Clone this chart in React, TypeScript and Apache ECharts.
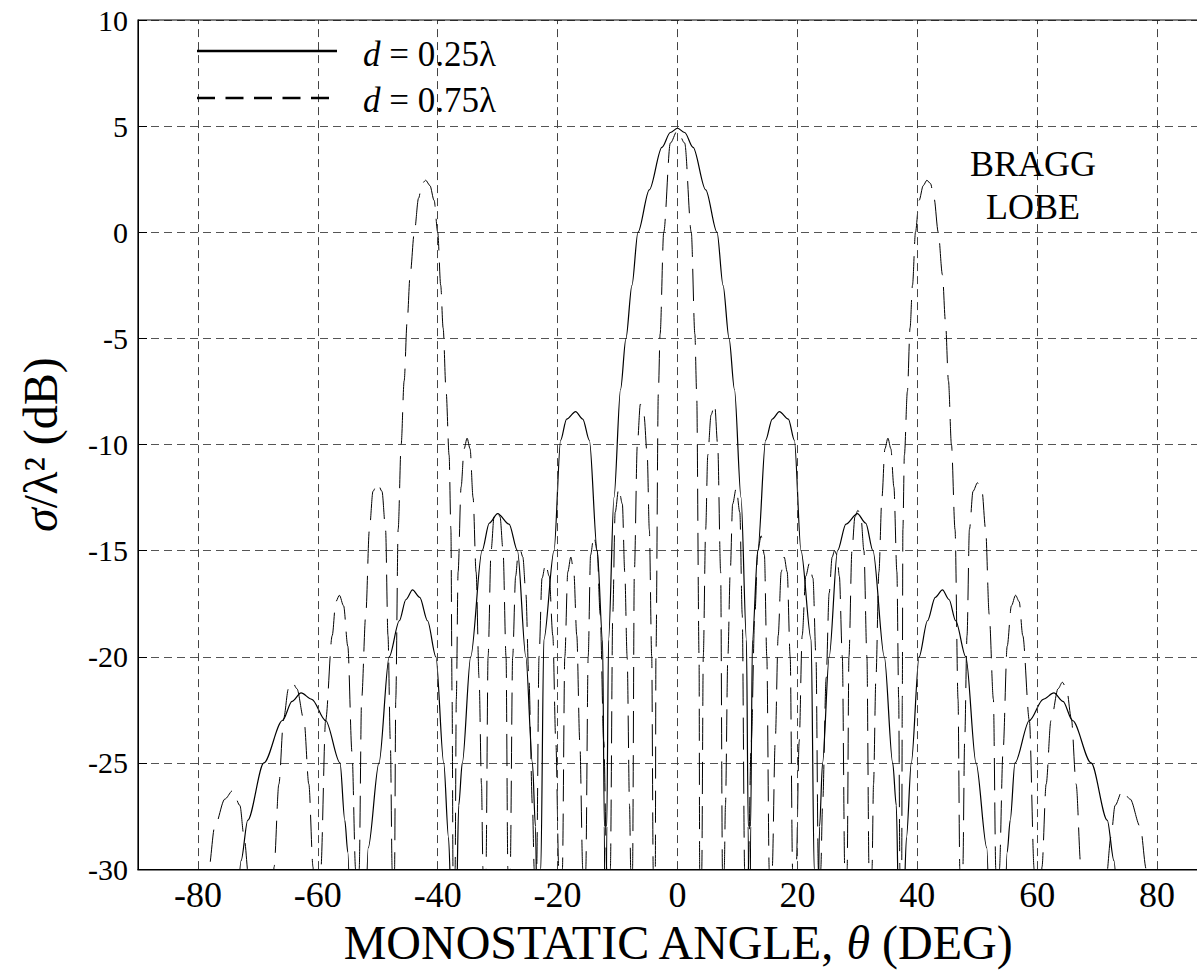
import React, { useEffect, useRef } from "react";
import * as echarts from "echarts";

const FONT = '"Liberation Serif", "Times New Roman", serif';

// x-axis labelled ticks (also the vertical grid lines)
const xTickLabels = [-80, -60, -40, -20, 0, 20, 40, 60, 80];

const legendLabels = ["d = 0.25λ", "d = 0.75λ"];

// d = 0.25λ (solid) : [angle (deg), σ/λ² (dB)]
const solidSeries: [number, number][] = [
  [-90, -45], [-76, -42], [-73.8, -33], [-72.8, -29.6], [-71.7, -27.7], [-69, -25], [-65.9, -23],
  [-64.3, -22.1], [-62.8, -21.7], [-61, -22], [-58.7, -23], [-56.3, -25], [-55.5, -27.7], [-55, -29.2],
  [-54.3, -35], [-53.3, -42], [-52.3, -35], [-51.6, -29], [-49.8, -25], [-48.1, -20], [-46.4, -18.3],
  [-45.3, -17.3], [-44.2, -16.85], [-43, -17.2], [-41.7, -18.3], [-40.3, -20], [-39, -25], [-38.2, -28.5],
  [-37.6, -33], [-37.3, -40], [-36.9, -32], [-36.5, -27], [-35.9, -25], [-34.5, -20], [-32.6, -15],
  [-31.4, -13.7], [-30, -13.25], [-28.1, -13.75], [-26.7, -15], [-25.3, -20], [-24.2, -25], [-23.7, -28],
  [-23.3, -35], [-23, -40], [-22.8, -30], [-22.3, -19.2], [-20.6, -15], [-19.5, -9.8], [-18.5, -8.8],
  [-17, -8.45], [-15.8, -8.8], [-14.7, -9.8], [-13.4, -15], [-12.5, -19.2], [-12.2, -28], [-12, -40],
  [-11.8, -28], [-11.5, -19.2], [-10.6, -12.5], [-9.5, -7.4], [-8.6, -5], [-7.6, -2.5], [-6.6, 0],
  [-4.7, 2], [-2.6, 4], [-1.2, 4.7], [0, 4.9],
  [1.2, 4.7], [2.6, 4], [4.7, 2], [6.6, 0], [7.6, -2.5], [8.6, -5], [9.5, -7.4], [10.6, -12.5],
  [11.5, -19.2], [11.8, -28], [12, -40], [12.2, -28], [12.5, -19.2], [13.4, -15], [14.7, -9.8],
  [15.8, -8.8], [17, -8.45], [18.5, -8.8], [19.5, -9.8], [20.6, -15], [22.3, -19.2], [22.8, -30],
  [23, -40], [23.3, -35], [23.7, -28], [24.2, -25], [25.3, -20], [26.7, -15], [28.1, -13.75],
  [30, -13.25], [31.4, -13.7], [32.6, -15], [34.5, -20], [35.9, -25], [36.5, -27], [36.9, -32],
  [37.3, -40], [37.6, -33], [38.2, -28.5], [39, -25], [40.3, -20], [41.7, -18.3], [43, -17.2],
  [44.2, -16.85], [45.3, -17.3], [46.4, -18.3], [48.1, -20], [49.8, -25], [51.6, -29], [52.3, -35],
  [53.3, -42], [54.3, -35], [55, -29.2], [55.5, -27.7], [56.3, -25], [58.7, -23], [61, -22],
  [62.8, -21.7], [64.3, -22.1], [65.9, -23], [69, -25], [71.7, -27.7], [72.8, -29.6], [73.8, -33],
  [76, -42], [90, -45],
];

// d = 0.75λ (dashed) : [angle (deg), σ/λ² (dB)]
const dashedSeries: [number, number][] = [
  [-90, -45], [-80, -42], [-79, -40], [-78.2, -30], [-77.2, -28], [-75.5, -26.7], [-74.2, -26.3],
  [-73, -27], [-72.3, -28.5], [-71.5, -30.5], [-70.8, -40], [-68, -40], [-67.3, -29.9], [-66.5, -26],
  [-65.7, -22.9], [-64.9, -21.5], [-64.2, -21.2], [-63.5, -21.5], [-62.3, -23], [-61.5, -26],
  [-60.8, -29.9], [-60.3, -40], [-59.5, -30], [-58.7, -23], [-57.6, -19], [-57, -17.4], [-56.4, -17.1],
  [-55.7, -17.6], [-55, -19.5], [-54.3, -24.5], [-53.7, -30], [-53.4, -40], [-53.1, -30], [-52.7, -22],
  [-52, -18], [-51.4, -14], [-50.8, -12.2], [-50.05, -11.8], [-49.3, -12.2], [-48.7, -14], [-48.3, -19],
  [-47.9, -24], [-47.6, -30], [-47.4, -40], [-47.2, -30], [-47, -22], [-46.6, -14], [-46.1, -10],
  [-45.6, -7], [-45.1, -4.2], [-44.6, -2], [-43.9, 0], [-43.2, 1.6], [-42.6, 2.3], [-42, 2.45],
  [-41.3, 2.2], [-40.6, 1.5], [-40, 0], [-39.5, -2.5], [-39.1, -4.5], [-38.6, -7.5], [-38.1, -10.5],
  [-37.8, -14], [-37.6, -22], [-37.45, -30], [-37.3, -40], [-37.1, -30], [-36.9, -22], [-36.6, -16],
  [-36.1, -12], [-35.6, -10.2], [-35.1, -9.7], [-34.6, -10.2], [-34.1, -12.5], [-33.6, -16],
  [-33.1, -21], [-32.7, -26], [-32.45, -30], [-32.2, -40], [-31.95, -30], [-31.6, -20], [-31.1, -15],
  [-30.6, -13.4], [-30.1, -13.1], [-29.6, -13.4], [-29.1, -15], [-28.6, -20], [-28.3, -30], [-28.1, -40],
  [-27.9, -30], [-27.5, -20], [-27, -16.2], [-26.6, -15.2], [-26.2, -15], [-25.8, -15.3], [-25.3, -17],
  [-24.8, -21], [-24.2, -27], [-23.9, -30], [-23.7, -40], [-23.5, -30], [-23.1, -20], [-22.6, -16.3],
  [-22, -15.6], [-21.4, -16.2], [-20.8, -19], [-20.3, -24], [-19.8, -30], [-19.5, -40], [-19.2, -30],
  [-18.8, -20], [-18.3, -16], [-17.8, -15.3], [-17.3, -16], [-16.8, -19], [-16.3, -24], [-15.8, -30],
  [-15.5, -40], [-15.3, -30], [-14.9, -20], [-14.5, -15.2], [-13.95, -14.3], [-13.4, -15], [-12.9, -18],
  [-12.3, -24], [-11.8, -30], [-11.5, -40], [-11.2, -30], [-10.8, -18], [-10.4, -13.2], [-9.8, -12.05],
  [-9.2, -12.8], [-8.8, -16], [-8.4, -20], [-8, -27], [-7.8, -30], [-7.7, -40], [-7.5, -30], [-7.2, -16],
  [-6.7, -10], [-6.2, -8.1], [-5.6, -8.6], [-5.05, -10.5], [-4.7, -14], [-4.3, -20], [-4.05, -30],
  [-3.9, -40], [-3.7, -30], [-3.6, -20], [-3.2, -7.6], [-2.9, -4.8], [-2.3, 0], [-1.2, 4.2], [0, 4.8],
  [1.2, 4.2], [2.3, 0], [2.9, -4.8], [3.2, -7.6], [3.6, -20], [3.7, -30], [3.9, -40], [4.05, -30],
  [4.3, -20], [4.7, -14], [5.05, -10.5], [5.6, -8.6], [6.2, -8.1], [6.7, -10], [7.2, -16], [7.5, -30],
  [7.7, -40], [7.8, -30], [8, -27], [8.4, -20], [8.8, -16], [9.2, -12.8], [9.8, -12.05], [10.4, -13.2],
  [10.8, -18], [11.2, -30], [11.5, -40], [11.8, -30], [12.3, -24], [12.9, -18], [13.4, -15],
  [13.95, -14.3], [14.5, -15.2], [14.9, -20], [15.3, -30], [15.5, -40], [15.8, -30], [16.3, -24],
  [16.8, -19], [17.3, -16], [17.8, -15.3], [18.3, -16], [18.8, -20], [19.2, -30], [19.5, -40],
  [19.8, -30], [20.3, -24], [20.8, -19], [21.4, -16.2], [22, -15.6], [22.6, -16.3], [23.1, -20],
  [23.5, -30], [23.7, -40], [23.9, -30], [24.2, -27], [24.8, -21], [25.3, -17], [25.8, -15.3],
  [26.2, -15], [26.6, -15.2], [27, -16.2], [27.5, -20], [27.9, -30], [28.1, -40], [28.3, -30],
  [28.6, -20], [29.1, -15], [29.6, -13.4], [30.1, -13.1], [30.6, -13.4], [31.1, -15], [31.6, -20],
  [31.95, -30], [32.2, -40], [32.45, -30], [32.7, -26], [33.1, -21], [33.6, -16], [34.1, -12.5],
  [34.6, -10.2], [35.1, -9.7], [35.6, -10.2], [36.1, -12], [36.6, -16], [36.9, -22], [37.1, -30],
  [37.3, -40], [37.4, -30], [37.5, -22], [37.6, -14], [37.85, -10.5], [38.35, -7.5], [38.8, -4.5],
  [39.2, -2.5], [39.7, 0], [40.3, 1.5], [41, 2.2], [41.6, 2.45], [42.2, 2.3], [42.8, 1.6], [43.5, 0],
  [44.2, -2], [44.7, -4.2], [45.2, -7], [45.7, -10], [46.3, -14], [46.8, -22], [47.1, -30], [47.4, -40],
  [47.6, -30], [47.9, -24], [48.3, -19], [48.7, -14], [49.3, -12.2], [50.05, -11.8], [50.8, -12.2],
  [51.4, -14], [52, -18], [52.7, -22], [53.1, -30], [53.4, -40], [53.7, -30], [54.3, -24.5], [55, -19.5],
  [55.7, -17.6], [56.4, -17.1], [57, -17.4], [57.6, -19], [58.7, -23], [59.5, -30], [60.3, -40],
  [60.8, -29.9], [61.5, -26], [62.3, -23], [63.5, -21.5], [64.2, -21.2], [64.9, -21.5], [65.7, -22.9],
  [66.5, -26], [67.3, -29.9], [68, -40], [70.8, -40], [71.5, -30.5], [72.3, -28.5], [73, -27],
  [74.2, -26.3], [75.5, -26.7], [77.2, -28], [78.2, -30], [79, -40], [80, -42], [90, -45],
];

export default function App() {
  const ref = useRef<HTMLDivElement>(null);

  useEffect(() => {
    if (!ref.current) return;
    const chart = echarts.init(ref.current, null, { renderer: "svg" });
    const italic = { fontStyle: "italic", fontFamily: FONT, fontSize: 35, fill: "#000", color: "#000" };
    const legendText = (label: string, y: number) => ({
      type: "text",
      z: 100,
      x: 363,
      y,
      style: {
        text: "{i|d}" + label.slice(1),
        fontSize: 35,
        fontFamily: FONT,
        fill: "#000",
        verticalAlign: "middle",
        textVerticalAlign: "middle",
        rich: { i: italic },
      },
    });
    chart.setOption({
      animation: false,
      backgroundColor: "#fff",
      grid: { left: 138, right: 13, top: 20, bottom: 101, containLabel: false },
      xAxis: {
        type: "value",
        min: -90,
        max: 90,
        interval: 10,
        axisLine: { show: true, onZero: false, lineStyle: { color: "#000", width: 1 } },
        axisTick: { show: false },
        splitLine: { show: false },
        axisLabel: {
          formatter: (v: number) => (xTickLabels.includes(v) ? String(v) : ""),
          fontSize: 36,
          fontFamily: FONT,
          color: "#000",
          margin: 8,
        },
        name: "MONOSTATIC ANGLE, {i|θ} (DEG)",
        nameLocation: "middle",
        nameGap: 44,
        nameTextStyle: {
          fontSize: 48,
          fontFamily: FONT,
          color: "#000",
          rich: { i: { fontStyle: "italic", fontSize: 48, fontFamily: FONT, color: "#000" } },
        },
      },
      yAxis: {
        type: "value",
        min: -30,
        max: 10,
        interval: 5,
        axisLine: { show: true, onZero: false, lineStyle: { color: "#000", width: 1 } },
        axisTick: { show: true, inside: true, length: 9, lineStyle: { color: "#000" } },
        splitLine: { show: true, lineStyle: { color: "#555", width: 1, type: [8, 5] } },
        axisLabel: { fontSize: 30, fontFamily: FONT, color: "#000", margin: 10 },
        name: "{i|σ}/λ² (dB)",
        nameLocation: "middle",
        nameRotate: 90,
        nameGap: 74,
        nameTextStyle: {
          fontSize: 48,
          fontFamily: FONT,
          color: "#000",
          rich: { i: { fontStyle: "italic", fontSize: 48, fontFamily: FONT, color: "#000" } },
        },
      },
      series: [
        {
          name: legendLabels[0],
          type: "line",
          data: solidSeries,
          symbol: "none",
          smooth: 0.3,
          smoothMonotone: "x",
          lineStyle: { color: "#000", width: 1.2 },
          z: 3,
          markLine: {
            silent: true,
            symbol: "none",
            label: { show: false },
            lineStyle: { color: "#444", width: 1, type: [8, 5] },
            data: xTickLabels.map((v) => ({ xAxis: v })),
          },
        },
        {
          name: legendLabels[1],
          type: "line",
          data: dashedSeries,
          symbol: "none",
          smooth: 0.3,
          smoothMonotone: "x",
          lineStyle: { color: "#000", width: 1, type: [32, 12] },
          z: 3,
        },
      ],
      graphic: [
        {
          type: "rect",
          z: 100,
          silent: true,
          shape: { x: 138, y: 20, width: 1079, height: 850 },
          style: { fill: "none", stroke: "#000", lineWidth: 1.2 },
        },
        {
          type: "line",
          z: 100,
          shape: { x1: 197, y1: 51, x2: 337, y2: 51 },
          style: { stroke: "#000", lineWidth: 2.5 },
        },
        {
          type: "line",
          z: 100,
          shape: { x1: 197, y1: 98, x2: 331, y2: 98 },
          style: { stroke: "#000", lineWidth: 2.5, lineDash: [18, 10.5] },
        },
        legendText(legendLabels[0], 54),
        legendText(legendLabels[1], 100),
        {
          type: "text",
          z: 100,
          x: 1033,
          y: 185,
          style: {
            text: "BRAGG\nLOBE",
            fontSize: 36,
            lineHeight: 43,
            fontFamily: FONT,
            fill: "#000",
            align: "center",
            textAlign: "center",
            verticalAlign: "middle",
            textVerticalAlign: "middle",
          },
        },
      ],
    });
    return () => chart.dispose();
  }, []);

  return (
    <div
      style={{
        position: "absolute",
        left: 0,
        top: 0,
        width: 1197,
        height: 971,
        overflow: "hidden",
        background: "#fff",
      }}
    >
      <div ref={ref} style={{ width: 1230, height: 971 }} />
    </div>
  );
}
